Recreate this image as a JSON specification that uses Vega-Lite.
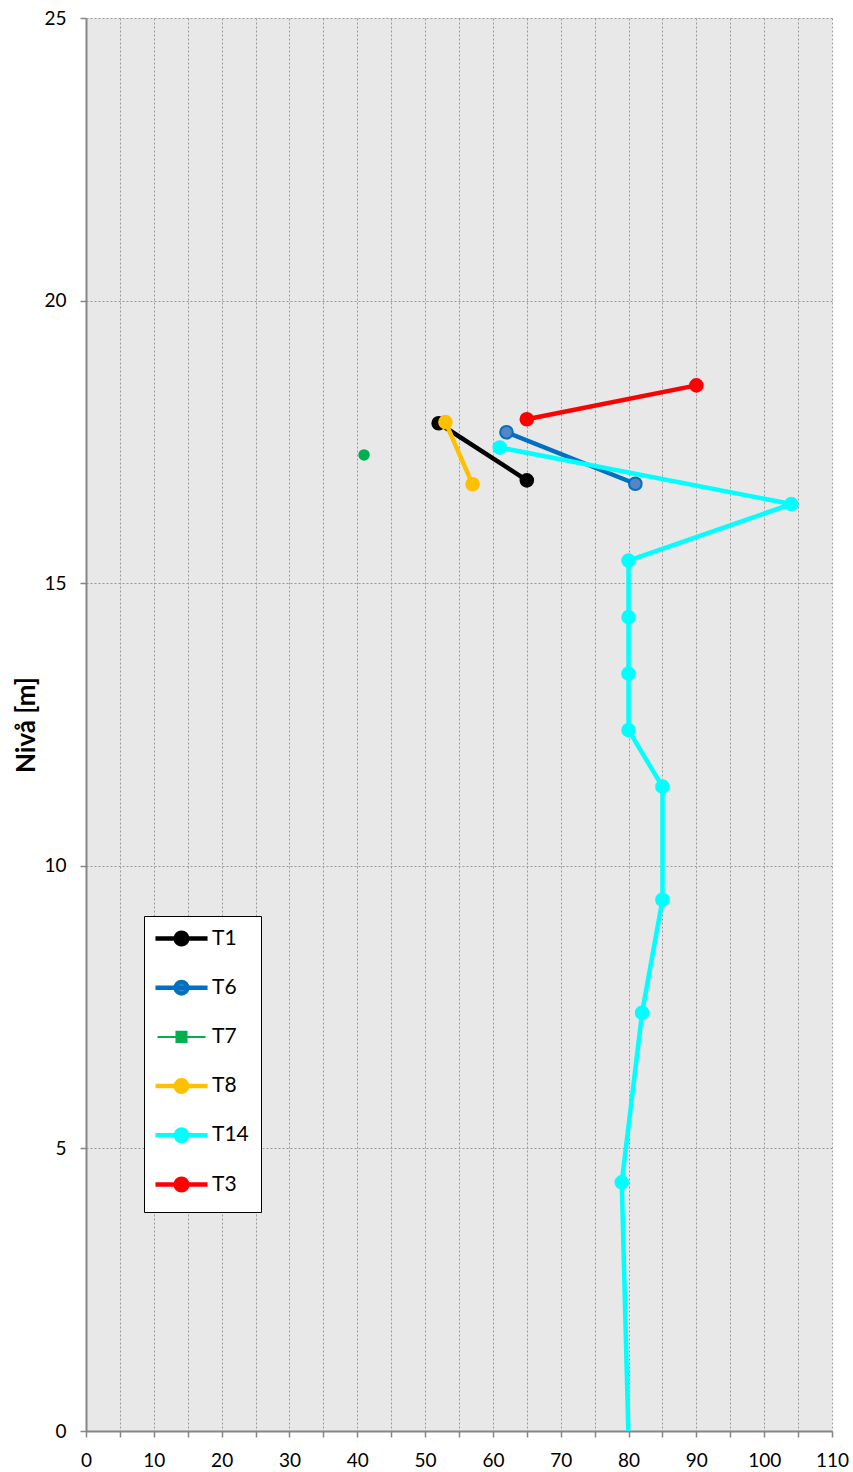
{
  "$schema": "https://vega.github.io/schema/vega-lite/v6.json",
  "width": 746,
  "height": 1413,
  "autosize": "none",
  "padding": {"left": 86, "top": 18, "right": 21, "bottom": 41},
  "background": "white",
  "config": {
    "view": {"fill": "#e8e8e8", "stroke": null},
    "font": "Lato"
  },
  "data": {
    "values": [
      {"series": "T1", "pct": 52, "level": 17.83},
      {"series": "T1", "pct": 65, "level": 16.82},
      {"series": "T6", "pct": 62, "level": 17.67},
      {"series": "T6", "pct": 81, "level": 16.76},
      {"series": "T7", "pct": 41, "level": 17.27},
      {"series": "T8", "pct": 53, "level": 17.85},
      {"series": "T8", "pct": 57, "level": 16.75},
      {"series": "T14", "pct": 61, "level": 17.4},
      {"series": "T14", "pct": 104, "level": 16.4},
      {"series": "T14", "pct": 80, "level": 15.4},
      {"series": "T14", "pct": 80, "level": 14.4},
      {"series": "T14", "pct": 80, "level": 13.4},
      {"series": "T14", "pct": 80, "level": 12.4},
      {"series": "T14", "pct": 85, "level": 11.4},
      {"series": "T14", "pct": 85, "level": 9.4},
      {"series": "T14", "pct": 82, "level": 7.4},
      {"series": "T14", "pct": 79, "level": 4.4},
      {"series": "T14", "pct": 80.1, "level": -0.6},
      {"series": "T3", "pct": 65, "level": 17.9},
      {"series": "T3", "pct": 90, "level": 18.5}
    ]
  },
  "encoding": {
    "x": {
      "field": "pct",
      "type": "quantitative",
      "scale": {"domain": [0, 110], "nice": false, "zero": false},
      "axis": {
        "title": null,
        "values": [0, 5, 10, 15, 20, 25, 30, 35, 40, 45, 50, 55, 60, 65, 70, 75, 80, 85, 90, 95, 100, 105, 110],
        "labelExpr": "datum.value % 10 === 0 ? datum.label : ''",
        "grid": true,
        "gridDash": [2, 2],
        "gridColor": "#9a9a9a",
        "gridWidth": 1,
        "domainColor": "#868686",
        "domainWidth": 2,
        "tickColor": "#868686",
        "tickWidth": 1.5,
        "tickSize": 6,
        "labelFontSize": 19,
        "labelColor": "black",
        "labelPadding": 14,
        "labelFlush": false,
        "labelOverlap": false
      }
    },
    "y": {
      "field": "level",
      "type": "quantitative",
      "scale": {"domain": [0, 25], "nice": false, "zero": false},
      "axis": {
        "title": "Nivå [m]",
        "titleFontSize": 26,
        "titleFontWeight": "bold",
        "titleColor": "black",
        "titlePadding": 4,
        "values": [0, 5, 10, 15, 20, 25],
        "grid": true,
        "gridDash": [2, 2],
        "gridColor": "#9a9a9a",
        "gridWidth": 1,
        "domainColor": "#868686",
        "domainWidth": 2,
        "tickColor": "#868686",
        "tickWidth": 1.5,
        "tickSize": 6,
        "labelFontSize": 19,
        "labelColor": "black",
        "labelPadding": 14,
        "labelFlush": false
      }
    }
  },
  "layer": [
    {
      "mark": {"type": "line", "strokeWidth": 4.5, "clip": true, "strokeCap": "round", "strokeJoin": "round"},
      "encoding": {
        "order": {"field": "level", "type": "quantitative"},
        "color": {
          "field": "series",
          "type": "nominal",
          "scale": {
            "domain": ["T1", "T6", "T7", "T8", "T14", "T3"],
            "range": ["#000000", "#0070c0", "#00b050", "#ffc000", "#00ffff", "#ff0000"]
          },
          "legend": {
            "title": null,
            "orient": "none",
            "legendX": 58,
            "legendY": 898,
            "padding": 12,
            "strokeColor": "black",
            "fillColor": "white",
            "gridAlign": "all",
            "symbolSize": 576,
            "symbolOffset": 15,
            "symbolStrokeWidth": 4.5,
            "labelFontSize": 21,
            "labelColor": "black",
            "labelOffset": 20,
            "rowPadding": 18.2,
            "encode": {
              "symbols": {
                "update": {
                  "shape": {"signal": "datum.value === 'T7' ? 'M-2,0L2,0M-0.42,-0.42L0.42,-0.42L0.42,0.42L-0.42,0.42Z' : 'M-2.17,0L2.17,0M0.48,0A0.48,0.48,0,1,1,-0.48,0A0.48,0.48,0,1,1,0.48,0Z'"},
                  "fill": {"signal": "datum.value === 'T6' ? '#5585c5' : scale('color', datum.value)"},
                  "stroke": {"signal": "scale('color', datum.value)"},
                  "strokeWidth": {"signal": "datum.value === 'T7' ? 2 : 4.5"},
                  "opacity": {"value": 1}
                }
              }
            }
          }
        }
      }
    },
    {
      "mark": {"type": "point", "shape": "circle", "filled": true, "clip": true, "opacity": 1},
      "encoding": {
        "fill": {
          "field": "series",
          "type": "nominal",
          "scale": {
            "domain": ["T1", "T6", "T7", "T8", "T14", "T3"],
            "range": ["#000000", "#5585c5", "#00b050", "#ffc000", "#00ffff", "#ff0000"]
          },
          "legend": null
        },
        "stroke": {
          "field": "series",
          "type": "nominal",
          "scale": {
            "domain": ["T1", "T6", "T7", "T8", "T14", "T3"],
            "range": ["#000000", "#0070c0", "#00b050", "#ffc000", "#00ffff", "#ff0000"]
          },
          "legend": null
        },
        "strokeWidth": {"value": 2},
        "size": {"condition": {"test": "datum.series === 'T7'", "value": 90}, "value": 160}
      }
    }
  ]
}
